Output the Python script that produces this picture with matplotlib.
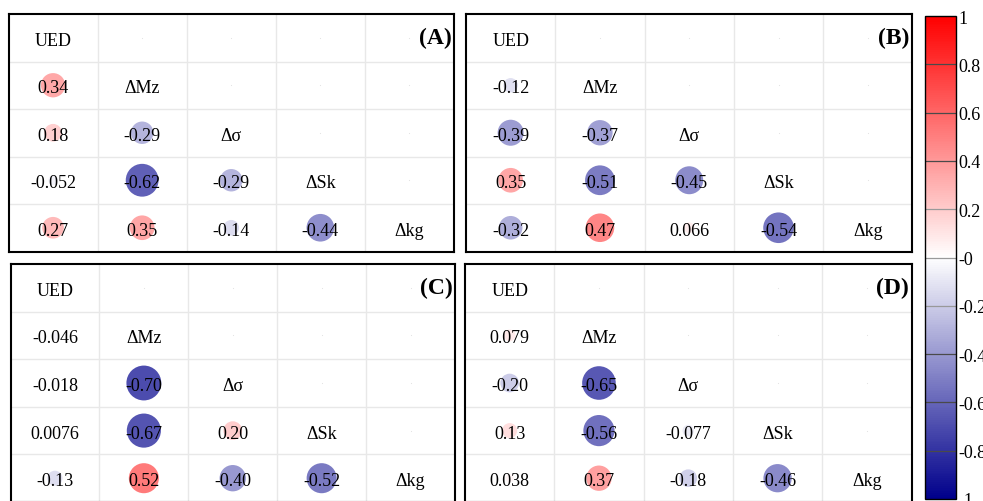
import numpy as np
import matplotlib
matplotlib.use("Agg")
import matplotlib.pyplot as plt
from matplotlib.colors import LinearSegmentedColormap, Normalize

plt.rcParams['font.family'] = ['Liberation Serif', 'DejaVu Serif']
plt.rcParams['axes.unicode_minus'] = False

# variables (diagonal labels)
variables = ['UED', 'ΔMz', 'Δσ', 'ΔSk', 'Δkg']
panel_tags = ['(A)', '(B)', '(C)', '(D)']

# lower-triangle correlations, row by row (rows 2..5)
corr_A = [[0.34],
          [0.18, -0.29],
          [-0.052, -0.62, -0.29],
          [0.27, 0.35, -0.14, -0.44]]
corr_B = [[-0.12],
          [-0.39, -0.37],
          [0.35, -0.51, -0.45],
          [-0.32, 0.47, 0.066, -0.54]]
corr_C = [[-0.046],
          [-0.018, -0.70],
          [0.0076, -0.67, 0.20],
          [-0.13, 0.52, -0.40, -0.52]]
corr_D = [[0.079],
          [-0.20, -0.65],
          [0.13, -0.56, -0.077],
          [0.038, 0.37, -0.18, -0.46]]
panels = [corr_A, corr_B, corr_C, corr_D]

cmap = LinearSegmentedColormap.from_list('bwr_dark', ['#00008B', '#FFFFFF', '#FF0000'])
norm = Normalize(-1, 1)


def fmt2(v):
    # two significant digits, keep trailing zeros
    d = 2 - int(np.floor(np.log10(abs(v)))) - 1
    return f"{v:.{d}f}"


def cell_text(ax, x, y, s, **kw):
    ax.annotate(s, (x, y), xytext=(0, -1.8), textcoords='offset points',
                ha='center', va='center', fontsize=13, zorder=3, **kw)


W, H = 983, 502
fig = plt.figure(figsize=(W / 100, H / 100), dpi=100)

# panel boxes in pixels: left, top, right, bottom
boxes = [(8.5, 15, 454, 252.5),
         (466, 15, 912.5, 252.5),
         (10.5, 265, 455, 503),
         (465, 265, 911.5, 503)]

n = len(variables)
for corr, tag, (l, t, r, b) in zip(panels, panel_tags, boxes):
    ax = fig.add_axes([l / W, (H - b) / H, (r - l) / W, (b - t) / H])
    ax.set_xlim(-0.5, n - 0.5)
    ax.set_ylim(n - 0.5, -0.5)
    for k in range(1, n):
        ax.axvline(k - 0.5, color='#e8e8e8', lw=1, zorder=0)
        ax.axhline(k - 0.5, color='#e8e8e8', lw=1, zorder=0)

    # lower triangle: circles with area proportional to |r|
    xs, ys, vals = [], [], []
    for i, row in enumerate(corr):
        for j, v in enumerate(row):
            xs.append(j)
            ys.append(i + 1)
            vals.append(v)
    vals = np.array(vals)
    ax.scatter(xs, ys, s=900 * np.abs(vals), c=vals, cmap=cmap, norm=norm,
               linewidths=0, zorder=2)
    for x, y, v in zip(xs, ys, vals):
        cell_text(ax, x, y, fmt2(v))

    # upper triangle: faint dots
    ux = [j for i in range(n) for j in range(i + 1, n)]
    uy = [i for i in range(n) for j in range(i + 1, n)]
    ax.scatter(ux, uy, s=0.6, color='#e0e0e0', linewidths=0, zorder=1)

    for k, name in enumerate(variables):
        cell_text(ax, k, k, name)

    ax.text(n - 0.53, 0, tag, ha='right', va='center', fontsize=17,
            fontweight='bold', zorder=4)

    ax.set_xticks([])
    ax.set_yticks([])
    for s in ax.spines.values():
        s.set_linewidth(1.5)
        s.set_color('black')

# colorbar
cax = fig.add_axes([925 / W, (H - 500) / H, 31 / W, (500 - 17) / H])
sm = matplotlib.cm.ScalarMappable(norm=norm, cmap=cmap)
cb = fig.colorbar(sm, cax=cax)
ticks = np.round(np.arange(-1, 1.01, 0.2), 1)
cb.set_ticks(ticks)
cb.set_ticklabels([f"{t:g}" for t in ticks])
cax.tick_params(length=0, labelsize=13, pad=1.5)
for t in ticks[1:-1]:
    cax.axhline(t, color='#4a4a4a' if abs(t) > 0.3 else '#999999', lw=0.9)
cb.outline.set_linewidth(1.0)

fig.savefig('out.png', dpi=100)
